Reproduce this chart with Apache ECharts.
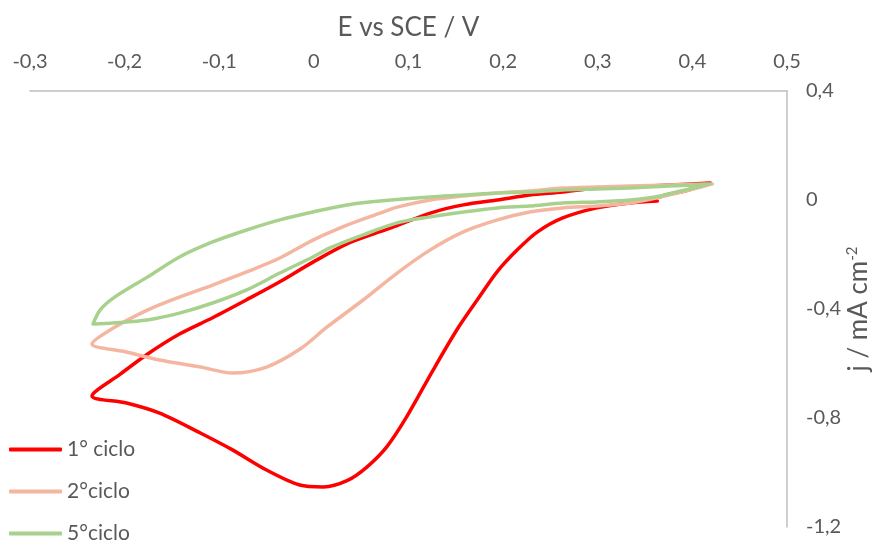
<!DOCTYPE html>
<html>
<head>
<meta charset="utf-8">
<script src="https://cdn.jsdelivr.net/npm/echarts@6/dist/echarts.min.js"></script>
<style>
  html, body { margin: 0; padding: 0; background: #ffffff; }
  #chart { width: 893px; height: 545px; }
</style>
</head>
<body>
<div id="chart"></div>
<script>
// Cyclic voltammograms: potential (V vs SCE) and current density (mA cm-2)
const seriesNames = ['1° ciclo', '2°ciclo', '5°ciclo'];

const cycle1E = [0.363, 0.334, 0.299, 0.263, 0.236, 0.215, 0.194, 0.172, 0.151, 0.126, 0.098, 0.077, 0.056, 0.035, 0.010, -0.015, -0.050, -0.086, -0.120, -0.163, -0.198, -0.2345, -0.205, -0.176, -0.142, -0.107, -0.071, -0.036, -0.001, 0.035, 0.070, 0.088, 0.123, 0.158, 0.194, 0.228, 0.263, 0.299, 0.334, 0.376, 0.419, 0.408, 0.392, 0.376, 0.365];
const cycle1J = [-0.004, -0.011, -0.029, -0.066, -0.118, -0.183, -0.262, -0.370, -0.477, -0.624, -0.796, -0.906, -0.980, -1.030, -1.053, -1.046, -0.991, -0.917, -0.855, -0.782, -0.745, -0.719, -0.640, -0.566, -0.492, -0.432, -0.366, -0.300, -0.228, -0.161, -0.116, -0.094, -0.048, -0.018, 0.000, 0.018, 0.029, 0.044, 0.048, 0.055, 0.062, 0.051, 0.033, 0.022, 0.011];

const cycle2E = [0.421, 0.401, 0.366, 0.334, 0.299, 0.263, 0.228, 0.194, 0.158, 0.123, 0.088, 0.052, 0.014, -0.015, -0.050, -0.086, -0.120, -0.163, -0.198, -0.2345, -0.212, -0.176, -0.142, -0.107, -0.071, -0.036, -0.001, 0.035, 0.070, 0.088, 0.123, 0.158, 0.194, 0.228, 0.263, 0.299, 0.334, 0.376, 0.421];
const cycle2J = [0.059, 0.040, 0.011, -0.011, -0.022, -0.029, -0.044, -0.073, -0.117, -0.183, -0.268, -0.367, -0.466, -0.548, -0.613, -0.635, -0.613, -0.587, -0.558, -0.528, -0.470, -0.404, -0.356, -0.312, -0.264, -0.213, -0.147, -0.092, -0.048, -0.026, 0.000, 0.015, 0.026, 0.033, 0.044, 0.048, 0.051, 0.055, 0.059];

const cycle5E = [0.419, 0.401, 0.366, 0.334, 0.299, 0.263, 0.228, 0.194, 0.158, 0.123, 0.088, 0.052, 0.017, -0.001, -0.036, -0.071, -0.107, -0.142, -0.176, -0.212, -0.2334, -0.226, -0.212, -0.176, -0.142, -0.107, -0.071, -0.036, -0.001, 0.035, 0.070, 0.123, 0.158, 0.194, 0.228, 0.263, 0.299, 0.334, 0.376, 0.419];
const cycle5J = [0.059, 0.044, 0.015, 0.000, -0.007, -0.011, -0.022, -0.029, -0.044, -0.062, -0.084, -0.128, -0.176, -0.209, -0.268, -0.330, -0.378, -0.415, -0.440, -0.451, -0.455, -0.404, -0.360, -0.283, -0.209, -0.154, -0.110, -0.073, -0.044, -0.018, -0.004, 0.011, 0.018, 0.026, 0.029, 0.037, 0.040, 0.044, 0.051, 0.059];

const xTicks = [-0.3, -0.2, -0.1, 0, 0.1, 0.2, 0.3, 0.4, 0.5];
const xTickLabels = ['-0,3', '-0,2', '-0,1', '0', '0,1', '0,2', '0,3', '0,4', '0,5'];
const yTicks = [-1.2, -0.8, -0.4, 0, 0.4];
const yTickLabels = ['-1,2', '-0,8', '-0,4', '0', '0,4'];

const colors = ['#ff0000', '#f4b6a0', '#a9d18e'];
const textColor = '#595959';
const axisColor = '#bfbfbf';
const fontFamily = 'Lato, "Open Sans", sans-serif';

function pairs(e, j) { return e.map((v, i) => [v, j[i]]); }
function tickLabel(ticks, labels) {
  return function (v) {
    const i = ticks.findIndex(t => Math.abs(t - v) < 1e-6);
    return i >= 0 ? labels[i] : '';
  };
}

const chart = echarts.init(document.getElementById('chart'));
chart.setOption({
  animation: false,
  backgroundColor: '#ffffff',
  grid: { left: 30, right: 106, top: 91, bottom: 18 },
  xAxis: {
    type: 'value',
    position: 'top',
    min: -0.3, max: 0.5, interval: 0.1,
    name: 'E vs SCE / V',
    nameLocation: 'middle',
    nameGap: 50,
    nameMoveOverlap: false,
    nameTextStyle: { color: textColor, fontSize: 26, fontFamily: fontFamily },
    axisLine: { show: true, onZero: false, lineStyle: { color: axisColor, width: 1.5 } },
    axisTick: { show: false },
    splitLine: { show: false },
    axisLabel: { color: textColor, fontSize: 20, fontFamily: fontFamily, margin: 19,
                 formatter: tickLabel(xTicks, xTickLabels) }
  },
  yAxis: {
    type: 'value',
    position: 'right',
    min: -1.2, max: 0.4, interval: 0.4,
    name: 'j / mA cm{sup|-2}',
    nameLocation: 'middle',
    nameGap: 58,
    nameRotate: 90,
    nameMoveOverlap: false,
    nameTextStyle: {
      color: textColor, fontSize: 26, fontFamily: fontFamily,
      rich: { sup: { color: textColor, fontSize: 15, fontFamily: fontFamily, verticalAlign: 'top', padding: [0, 0, 12, 0] } }
    },
    axisLine: { show: true, onZero: false, lineStyle: { color: axisColor, width: 1.5 } },
    axisTick: { show: false },
    splitLine: { show: false },
    axisLabel: { color: textColor, fontSize: 20, fontFamily: fontFamily, margin: 19,
                 formatter: tickLabel(yTicks, yTickLabels) }
  },
  legend: {
    orient: 'vertical',
    left: 9, top: 439,
    padding: 0,
    itemGap: 21,
    itemWidth: 53, itemHeight: 4,
    icon: 'roundRect',
    textStyle: { color: textColor, fontSize: 21, fontFamily: fontFamily },
    data: seriesNames
  },
  series: [
    { name: seriesNames[0], data: pairs(cycle1E, cycle1J) },
    { name: seriesNames[1], data: pairs(cycle2E, cycle2J) },
    { name: seriesNames[2], data: pairs(cycle5E, cycle5J) }
  ].map((s, i) => Object.assign(s, {
    type: 'line',
    smooth: 0.3,
    smoothConstraint: false,
    showSymbol: false,
    symbol: 'none',
    color: colors[i],
    lineStyle: { color: colors[i], width: 3.5, cap: 'round', join: 'round' }
  }))
});
</script>
</body>
</html>
